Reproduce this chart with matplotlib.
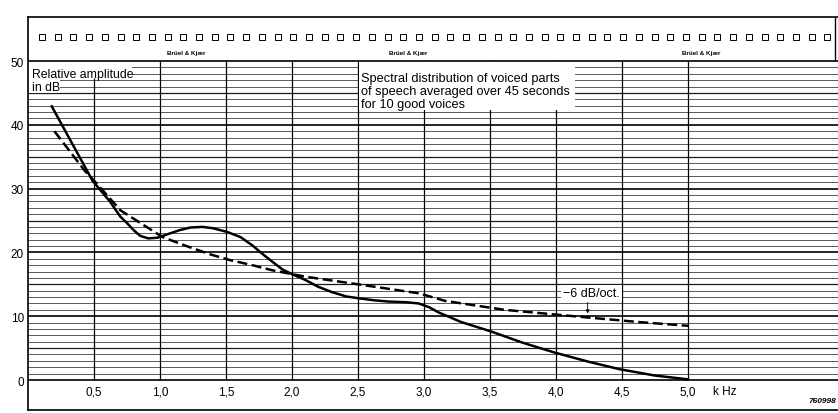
import numpy as np
import matplotlib.pyplot as plt
from matplotlib.patches import Rectangle

plt.rcParams['font.family'] = ['Liberation Sans', 'DejaVu Sans']

# Espectro medio de la voz (curva continua), kHz / dB
f_voz = [0.18, 0.49, 0.62, 0.70, 0.75, 0.80, 0.85, 0.91, 0.98, 1.05, 1.15, 1.23,
         1.32, 1.40, 1.51, 1.61, 1.70, 1.78, 1.86, 1.93, 2.01, 2.10, 2.20, 2.30,
         2.41, 2.51, 2.62, 2.73, 2.86, 2.96, 3.04, 3.11, 3.19, 3.28, 3.51, 3.74,
         3.99, 4.24, 4.48, 4.75, 5.00]
db_voz = [42.9, 31.2, 28.0, 25.6, 24.6, 23.5, 22.6, 22.2, 22.3, 22.8, 23.5, 23.9,
          24.0, 23.8, 23.2, 22.4, 21.1, 19.7, 18.4, 17.3, 16.5, 15.7, 14.6, 13.8,
          13.1, 12.8, 12.5, 12.3, 12.2, 12.0, 11.4, 10.6, 9.9, 9.1, 7.6, 5.9,
          4.3, 2.9, 1.7, 0.7, 0.1]

# Recta de referencia -6 dB/oct (discontinua)
f_oct = [0.20, 0.43, 0.52, 0.70, 1.02, 1.20, 1.38, 1.53, 1.70, 1.85, 2.00, 2.10,
         2.30, 2.50, 2.73, 2.96, 3.16, 3.61, 4.24, 4.62, 5.00]
db_oct = [39.0, 32.8, 30.8, 26.6, 22.4, 21.0, 19.7, 18.8, 18.0, 17.2, 16.6, 16.2,
          15.6, 15.0, 14.3, 13.6, 12.4, 11.0, 9.8, 9.1, 8.5]

ticks_khz = [0.5, 1.0, 1.5, 2.0, 2.5, 3.0, 3.5, 4.0, 4.5, 5.0]
etiquetas_khz = ['0,5', '1,0', '1,5', '2,0', '2,5', '3,0', '3,5', '4,0', '4,5', '5,0']
ticks_db = [0, 10, 20, 30, 40, 50]

titulo = ['Spectral distribution of voiced parts',
          'of speech averaged over 45 seconds',
          'for 10 good voices']

xmax = 810 / 132
fig = plt.figure(figsize=(8.38, 4.14), dpi=100)
ax = fig.add_axes([28 / 838, 3 / 414, 810 / 838, 393 / 414])
ax.set_xlim(0, xmax)
ax.set_ylim(-4.7, 56.9)

# papel milimetrado: lineas cada dB
for d in range(0, 51):
    if d % 10 == 0:
        ax.hlines(d, 0, xmax, color='black', lw=1.2, zorder=1)
    elif d % 5 == 0:
        ax.hlines(d, 0, xmax, color='0.1', lw=0.9, zorder=1)
    else:
        ax.hlines(d, 0, xmax, color='0.35', lw=0.7, zorder=1)
for f in ticks_khz:
    ax.vlines(f, 0, 47.4 if f == 0.5 else 50, color='black', lw=0.9, zorder=1)
ax.vlines(6.11, 50, 56.9, color='black', lw=1.0)

# tira superior con perforaciones
xs = 0.106 + 0.119 * np.arange(51)
ax.plot(xs, np.full(len(xs), 53.7), 's', ms=5, mfc='white', mec='black', mew=0.7)
for xb in [1.2, 2.88, 5.1]:
    ax.text(xb, 51.4, 'Brüel & Kjær', fontsize=4.5, fontweight='bold', ha='center', va='center')

# curvas
ax.plot(f_voz, db_voz, color='black', lw=1.8, solid_joinstyle='round', zorder=3)
ax.plot(f_oct, db_oct, color='black', lw=1.8, dashes=(4, 1.8), zorder=3)

# zonas en blanco bajo los rotulos
ax.add_patch(Rectangle((0, 47.4), 0.79, 2.5, facecolor='white', edgecolor='none', zorder=2))
ax.add_patch(Rectangle((0, 45.0), 0.24, 2.4, facecolor='white', edgecolor='none', zorder=2))
ax.add_patch(Rectangle((2.507, 42.3), 1.64, 7.6, facecolor='white', edgecolor='none', zorder=2))

ax.text(0.03, 47.9, 'Relative amplitude', fontsize=8.8, va='center', ha='left', zorder=4)
ax.text(0.03, 45.9, 'in dB', fontsize=8.8, va='center', ha='left', zorder=4)
for i, linea in enumerate(titulo):
    ax.text(2.52, 47.3 - 2.05 * i, linea, fontsize=9.2, va='center', ha='left', zorder=4)

ax.text(4.27, 13.6, '\u22126 dB/oct.', fontsize=9, va='center', ha='center',
        bbox=dict(facecolor='white', edgecolor='none', pad=1.5), zorder=4)
ax.annotate('', xy=(4.24, 10.0), xytext=(4.24, 12.6),
            arrowprops=dict(arrowstyle='-|>', lw=0.6, color='black', mutation_scale=5), zorder=4)

for f, lab in zip(ticks_khz, etiquetas_khz):
    ax.text(f, -1.8, lab, fontsize=8.5, ha='center', va='center')
ax.text(5.28, -1.8, 'k Hz', fontsize=8.5, ha='center', va='center')
ax.text(6.12, -3.2, '760998', fontsize=6, fontstyle='italic', fontweight='bold', ha='right', va='center')

ax.set_xticks([])
ax.set_yticks(ticks_db)
ax.set_yticklabels([str(t) for t in ticks_db], fontsize=8.5)
ax.tick_params(axis='y', length=0, pad=3)
ax.spines['right'].set_visible(False)
for s in ['left', 'top', 'bottom']:
    ax.spines[s].set_linewidth(1.2)

fig.savefig('out.png', dpi=100)
